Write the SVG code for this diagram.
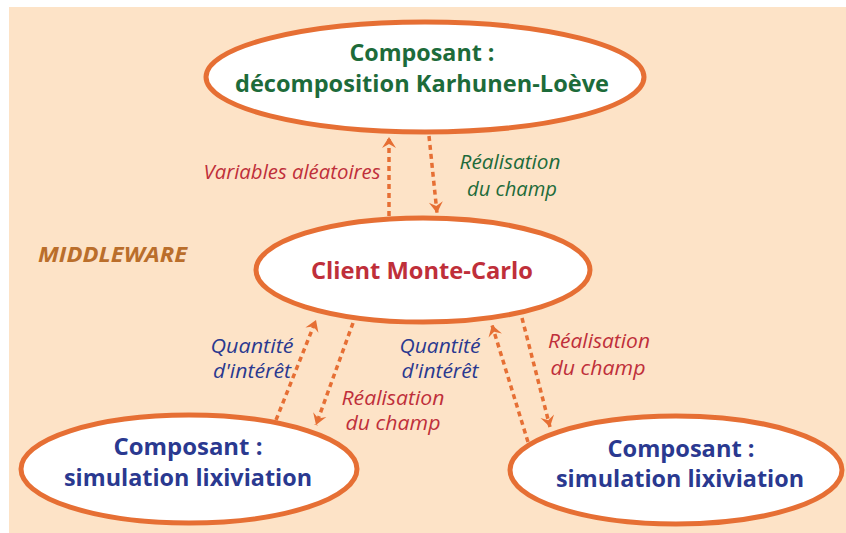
<svg xmlns="http://www.w3.org/2000/svg" width="846" height="533" viewBox="0 0 846 533">
<defs>
<style>
.node ellipse{fill:#fff;stroke:#E66F34;stroke-width:5}
.t{font-family:"Open Sans","Liberation Sans",sans-serif;font-weight:bold;font-size:23px;text-anchor:middle}
.l{font-family:"Open Sans","Liberation Sans",sans-serif;font-style:italic;font-size:20px;text-anchor:middle}
.c line{stroke:#E66F34;stroke-width:3.5;stroke-dasharray:5 4;fill:none}
.g{fill:#1D6B3A}.r{fill:#BF2F3A}.b{fill:#2A3990}
</style>
<marker id="ah" viewBox="-12 -8 14 16" markerWidth="14" markerHeight="16" refX="0" refY="0" orient="auto" markerUnits="userSpaceOnUse">
<path d="M0,0 L-11,-7 L-7,0 L-11,7 Z" fill="#E66F34"/>
</marker>
</defs>
<rect x="9" y="7" width="837" height="526" fill="#FDE3C7"/>
<text x="38" y="262" font-family="Open Sans,Liberation Sans,sans-serif" font-weight="bold" font-style="italic" font-size="22" fill="#BA6E2B" textLength="149" lengthAdjust="spacingAndGlyphs">MIDDLEWARE</text>
<g class="c" id="connectors">
<line x1="389" y1="216" x2="389" y2="137" marker-end="url(#ah)"/>
<line x1="429" y1="136" x2="437" y2="213" marker-end="url(#ah)"/>
<line x1="276" y1="420" x2="316" y2="320" marker-end="url(#ah)"/>
<line x1="353" y1="323" x2="316" y2="425" marker-end="url(#ah)"/>
<line x1="528" y1="442" x2="492" y2="325" marker-end="url(#ah)"/>
<line x1="522" y1="318" x2="550" y2="427" marker-end="url(#ah)"/>
</g>
<g id="labels">
<text class="l r" x="292" y="179" textLength="177" lengthAdjust="spacingAndGlyphs">Variables aléatoires</text>
<text class="l g" x="510" y="169" textLength="101" lengthAdjust="spacingAndGlyphs">Réalisation</text>
<text class="l g" x="512" y="196" textLength="90" lengthAdjust="spacingAndGlyphs">du champ</text>
<text class="l b" x="252" y="353" textLength="83" lengthAdjust="spacingAndGlyphs">Quantité</text>
<text class="l b" x="252" y="378" textLength="78" lengthAdjust="spacingAndGlyphs">d'intérêt</text>
<text class="l r" x="393" y="405" textLength="103" lengthAdjust="spacingAndGlyphs">Réalisation</text>
<text class="l r" x="393" y="430" textLength="95" lengthAdjust="spacingAndGlyphs">du champ</text>
<text class="l b" x="440" y="353" textLength="81" lengthAdjust="spacingAndGlyphs">Quantité</text>
<text class="l b" x="440" y="378" textLength="77" lengthAdjust="spacingAndGlyphs">d'intérêt</text>
<text class="l r" x="599" y="348" textLength="102" lengthAdjust="spacingAndGlyphs">Réalisation</text>
<text class="l r" x="598" y="375" textLength="95" lengthAdjust="spacingAndGlyphs">du champ</text>
</g>
<g class="node" id="kl">
<ellipse cx="425" cy="77" rx="219" ry="55"/>
<text class="t g" x="422" y="61" textLength="145" lengthAdjust="spacingAndGlyphs">Composant :</text>
<text class="t g" x="422" y="92" textLength="374" lengthAdjust="spacingAndGlyphs">décomposition Karhunen-Loève</text>
</g>
<g class="node" id="mc">
<ellipse cx="423" cy="270" rx="167" ry="52"/>
<text class="t r" x="422" y="279" textLength="222" lengthAdjust="spacingAndGlyphs">Client Monte-Carlo</text>
</g>
<g class="node" id="sim1">
<ellipse cx="189" cy="469" rx="168" ry="54"/>
<text class="t b" x="188" y="455" textLength="149" lengthAdjust="spacingAndGlyphs">Composant :</text>
<text class="t b" x="188" y="486" textLength="248" lengthAdjust="spacingAndGlyphs">simulation lixiviation</text>
</g>
<g class="node" id="sim2">
<ellipse cx="676" cy="470" rx="166" ry="54"/>
<text class="t b" x="681" y="457" textLength="147" lengthAdjust="spacingAndGlyphs">Composant :</text>
<text class="t b" x="680" y="487" textLength="248" lengthAdjust="spacingAndGlyphs">simulation lixiviation</text>
</g>
</svg>
